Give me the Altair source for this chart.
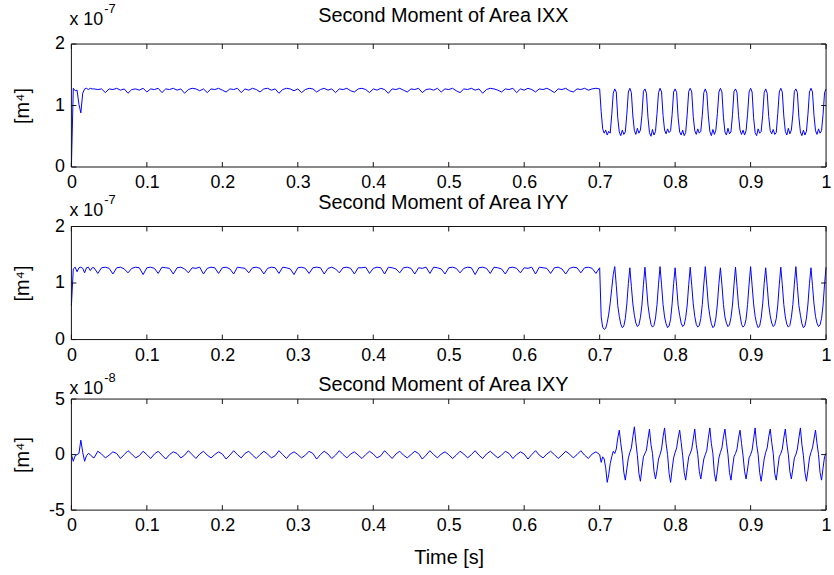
import altair as alt
import numpy as np
import pandas as pd

FONT = "Liberation Sans"
BLUE = "#0000ff"
EDGE = "#111111"

# Sample instants [s]: dense start-up window, 5 ms grid while steady, 2 ms grid once it oscillates
T_STARTUP = np.round(np.arange(0.0, 0.0301, 0.0025), 4)
T_STEADY = np.round(np.arange(0.035, 0.7001, 0.005), 4)
T_OSC = np.round(np.arange(0.702, 1.0001, 0.002), 4)

# ---- IXX  [x 1e-7 m^4] ----
IXX_STARTUP = [0.00, 1.28, 1.24, 1.25, 1.02, 0.88, 1.20, 1.27, 1.28, 1.26, 1.28, 1.27, 1.27]
IXX_STEADY = [
    1.26, 1.27, 1.21, 1.27, 1.26, 1.28, 1.25, 1.27, 1.20, 1.26,
    1.27, 1.25, 1.28, 1.22, 1.27, 1.26, 1.28, 1.21, 1.27, 1.26,
    1.28, 1.25, 1.27, 1.20, 1.26, 1.28, 1.27, 1.24, 1.27, 1.21,
    1.27, 1.26, 1.28, 1.25, 1.22, 1.27, 1.26, 1.28, 1.21, 1.27,
    1.25, 1.28, 1.26, 1.22, 1.27, 1.28, 1.25, 1.27, 1.20, 1.26,
    1.28, 1.27, 1.24, 1.27, 1.21, 1.26, 1.28, 1.27, 1.22, 1.26,
    1.28, 1.25, 1.27, 1.21, 1.27, 1.26, 1.28, 1.24, 1.22, 1.27,
    1.28, 1.26, 1.21, 1.27, 1.25, 1.28, 1.26, 1.20, 1.27, 1.26,
    1.28, 1.25, 1.22, 1.27, 1.26, 1.28, 1.21, 1.26, 1.27, 1.25,
    1.28, 1.22, 1.27, 1.26, 1.28, 1.24, 1.21, 1.27, 1.26, 1.28,
    1.25, 1.27, 1.20, 1.26, 1.28, 1.27, 1.25, 1.22, 1.27, 1.26,
    1.28, 1.21, 1.27, 1.25, 1.28, 1.26, 1.22, 1.27, 1.26, 1.28,
    1.25, 1.21, 1.27, 1.26, 1.28, 1.24, 1.22, 1.27, 1.26, 1.28,
    1.25, 1.27, 1.28, 1.27,
]
IXX_OSC = [
    0.90, 0.62, 0.55, 0.60, 0.52, 0.58, 0.55, 0.85, 1.20,
    1.27, 1.22, 0.80, 0.57, 0.51, 0.60, 0.53, 0.57, 0.86, 1.22,
    1.28, 1.21, 0.83, 0.59, 0.53, 0.63, 0.55, 0.60, 0.84, 1.23,
    1.27, 1.20, 0.81, 0.56, 0.50, 0.61, 0.52, 0.58, 0.87, 1.21,
    1.28, 1.22, 0.84, 0.60, 0.54, 0.62, 0.56, 0.59, 0.85, 1.22,
    1.27, 1.21, 0.80, 0.57, 0.52, 0.60, 0.51, 0.56, 0.86, 1.23,
    1.28, 1.22, 0.82, 0.59, 0.53, 0.62, 0.55, 0.58, 0.84, 1.21,
    1.27, 1.20, 0.83, 0.58, 0.51, 0.61, 0.53, 0.60, 0.87, 1.22,
    1.28, 1.22, 0.81, 0.57, 0.52, 0.63, 0.54, 0.57, 0.85, 1.23,
    1.27, 1.21, 0.84, 0.60, 0.53, 0.60, 0.52, 0.59, 0.86, 1.22,
    1.28, 1.22, 0.80, 0.56, 0.51, 0.62, 0.55, 0.58, 0.84, 1.21,
    1.27, 1.20, 0.82, 0.59, 0.54, 0.61, 0.53, 0.56, 0.87, 1.22,
    1.28, 1.22, 0.83, 0.58, 0.52, 0.63, 0.54, 0.60, 0.85, 1.23,
    1.27, 1.21, 0.81, 0.57, 0.51, 0.60, 0.52, 0.58, 0.86, 1.22,
    1.28, 1.22, 0.84, 0.59, 0.53, 0.62, 0.55, 0.59, 0.85, 1.21,
    1.27,
]

# ---- IYY  [x 1e-7 m^4] ----
IYY_STARTUP = [0.60, 1.25, 1.28, 1.20, 1.27, 1.28, 1.26, 1.18, 1.27, 1.28, 1.22, 1.27, 1.27]
IYY_STEADY = [
    1.17, 1.27, 1.28, 1.26, 1.16, 1.27, 1.28, 1.25, 1.18, 1.26,
    1.28, 1.27, 1.15, 1.27, 1.28, 1.26, 1.17, 1.28, 1.27, 1.26,
    1.16, 1.27, 1.28, 1.25, 1.18, 1.27, 1.26, 1.28, 1.16, 1.26,
    1.28, 1.27, 1.17, 1.27, 1.28, 1.25, 1.16, 1.28, 1.27, 1.26,
    1.18, 1.27, 1.28, 1.26, 1.16, 1.26, 1.28, 1.27, 1.17, 1.28,
    1.27, 1.25, 1.15, 1.27, 1.28, 1.26, 1.17, 1.27, 1.28, 1.27,
    1.16, 1.26, 1.28, 1.25, 1.18, 1.27, 1.28, 1.26, 1.16, 1.27,
    1.27, 1.28, 1.17, 1.26, 1.28, 1.27, 1.16, 1.28, 1.27, 1.25,
    1.18, 1.27, 1.28, 1.26, 1.16, 1.27, 1.26, 1.28, 1.17, 1.28,
    1.27, 1.25, 1.16, 1.27, 1.28, 1.26, 1.18, 1.26, 1.28, 1.27,
    1.15, 1.27, 1.28, 1.26, 1.17, 1.28, 1.27, 1.25, 1.16, 1.27,
    1.28, 1.26, 1.18, 1.27, 1.26, 1.28, 1.16, 1.28, 1.27, 1.26,
    1.17, 1.27, 1.28, 1.25, 1.16, 1.26, 1.28, 1.27, 1.18, 1.27,
    1.28, 1.26, 1.17, 1.27,
]
IYY_OSC = [
    0.40, 0.22, 0.18, 0.20, 0.30, 0.45, 0.65, 0.90, 1.15,
    1.29, 0.96, 0.60, 0.41, 0.27, 0.21, 0.24, 0.37, 0.63, 0.99,
    1.27, 0.94, 0.63, 0.43, 0.29, 0.23, 0.26, 0.39, 0.61, 0.97,
    1.28, 0.95, 0.61, 0.42, 0.27, 0.22, 0.25, 0.38, 0.62, 0.98,
    1.29, 0.97, 0.62, 0.40, 0.28, 0.21, 0.24, 0.36, 0.63, 0.99,
    1.27, 0.94, 0.60, 0.43, 0.29, 0.23, 0.26, 0.39, 0.61, 0.97,
    1.28, 0.96, 0.63, 0.41, 0.27, 0.22, 0.25, 0.37, 0.62, 0.98,
    1.29, 0.95, 0.61, 0.42, 0.28, 0.21, 0.24, 0.38, 0.63, 0.99,
    1.27, 0.97, 0.62, 0.40, 0.29, 0.23, 0.26, 0.39, 0.61, 0.97,
    1.28, 0.94, 0.60, 0.43, 0.27, 0.22, 0.25, 0.36, 0.62, 0.98,
    1.29, 0.96, 0.63, 0.41, 0.28, 0.21, 0.24, 0.38, 0.63, 0.99,
    1.27, 0.95, 0.61, 0.42, 0.29, 0.23, 0.26, 0.37, 0.61, 0.97,
    1.28, 0.97, 0.62, 0.40, 0.27, 0.22, 0.25, 0.39, 0.62, 0.98,
    1.29, 0.94, 0.60, 0.43, 0.28, 0.21, 0.24, 0.38, 0.63, 0.99,
    1.27, 0.96, 0.63, 0.41, 0.29, 0.23, 0.26, 0.37, 0.61, 0.98,
    1.28,
]

# ---- IXY  [x 1e-8 m^4] ----
IXY_STARTUP = [0.00, -0.60, -0.10, 0.00, 0.10, 1.30, 0.20, -0.60, -0.10, 0.10, 0.00, -0.20, -0.30]
IXY_STEADY = [
    0.30, 0.05, -0.30, -0.05, 0.25, 0.10, -0.35, 0.00, 0.35, 0.05,
    -0.30, -0.10, 0.30, 0.00, -0.35, 0.05, 0.30, -0.05, -0.40, 0.00,
    0.25, 0.10, -0.30, -0.05, 0.35, 0.00, -0.35, 0.05, 0.30, -0.05,
    -0.30, 0.00, 0.25, 0.05, -0.40, -0.05, 0.35, 0.00, -0.30, 0.10,
    0.30, -0.05, -0.35, 0.00, 0.30, 0.05, -0.30, -0.10, 0.35, 0.00,
    -0.35, 0.05, 0.25, 0.00, -0.30, -0.05, 0.30, 0.10, -0.40, 0.00,
    0.30, 0.05, -0.35, -0.05, 0.35, 0.00, -0.30, 0.05, 0.25, -0.05,
    -0.35, 0.00, 0.30, 0.05, -0.30, -0.10, 0.35, 0.00, -0.35, 0.05,
    0.30, -0.05, -0.30, 0.00, 0.30, 0.10, -0.40, -0.05, 0.35, 0.00,
    -0.30, 0.05, 0.25, 0.00, -0.35, -0.05, 0.30, 0.05, -0.30, 0.00,
    0.35, -0.05, -0.35, 0.05, 0.30, 0.00, -0.30, -0.05, 0.30, 0.10,
    -0.35, 0.00, 0.25, 0.05, -0.40, 0.00, 0.35, -0.05, -0.30, 0.05,
    0.30, 0.00, -0.35, -0.05, 0.30, 0.05, -0.30, 0.00, 0.35, -0.05,
    -0.35, 0.05, 0.25, 0.00,
]
IXY_OSC = [
    -0.70, -0.20, -0.40, -1.20, -2.50, -1.80, -0.80, -0.20, 0.30,
    0.10, 0.50, 1.50, 2.20, 1.00, 0.00, -1.60, -2.30, -1.30, -0.30,
    0.20, 0.60, 1.60, 2.50, 1.10, -0.10, -1.70, -2.40, -1.20, -0.20,
    0.10, 0.40, 1.40, 2.30, 0.90, 0.10, -1.50, -2.20, -1.40, -0.40,
    0.00, 0.50, 1.60, 2.40, 1.00, 0.00, -1.70, -2.50, -1.30, -0.30,
    0.20, 0.60, 1.50, 2.20, 1.10, -0.10, -1.60, -2.30, -1.20, -0.20,
    0.10, 0.50, 1.40, 2.30, 0.90, 0.00, -1.50, -2.20, -1.30, -0.40,
    0.00, 0.40, 1.50, 2.40, 1.00, 0.10, -1.70, -2.40, -1.40, -0.30,
    0.20, 0.60, 1.60, 2.30, 1.10, 0.00, -1.60, -2.30, -1.20, -0.20,
    0.10, 0.50, 1.50, 2.20, 1.00, -0.10, -1.50, -2.20, -1.30, -0.30,
    0.00, 0.40, 1.40, 2.40, 0.90, 0.00, -1.60, -2.40, -1.40, -0.40,
    0.20, 0.60, 1.60, 2.30, 1.10, 0.10, -1.70, -2.30, -1.20, -0.20,
    0.10, 0.50, 1.50, 2.30, 1.00, 0.00, -1.50, -2.20, -1.30, -0.30,
    0.00, 0.50, 1.50, 2.40, 0.90, -0.10, -1.60, -2.40, -1.40, -0.30,
    0.20, 0.60, 1.40, 2.20, 1.00, 0.00, -1.60, -2.30, -1.20, -0.20,
    0.10,
]

TITLES = ["Second Moment of Area IXX", "Second Moment of Area IYY", "Second Moment of Area IXY"]
EXPONENTS = ["-7", "-7", "-8"]
Y_TICKS = [[0, 1, 2], [0, 1, 2], [-5, 0, 5]]
X_TICKS = [0, 0.1, 0.2, 0.3, 0.4, 0.5, 0.6, 0.7, 0.8, 0.9, 1]
Y_LABEL = "[m\u2074]"
X_LABEL = "Time [s]"

T = np.concatenate([T_STARTUP, T_STEADY, T_OSC])
SERIES = [
    IXX_STARTUP + IXX_STEADY + IXX_OSC,
    IYY_STARTUP + IYY_STEADY + IYY_OSC,
    IXY_STARTUP + IXY_STEADY + IXY_OSC,
]

# layout (pixels)
W = 761
HEIGHTS = [124, 114, 112]
GAP = 60
TICK_LEN = 5
TITLE_BASE = [-22, -18, -8]      # baseline of each panel title, above the box
SCALE_BASE = [-19, -11, -5]      # baseline of the "x 10" multiplier
TITLE_X = 375


def panel_paths(values, yticks, height):
    """Signal polyline plus the box outline and inward tick marks, in data units."""
    rows = [{"kind": "signal", "seg": "signal", "i": k, "t": float(t), "v": float(v)}
            for k, (t, v) in enumerate(zip(T, values))]
    y0, y1 = yticks[0], yticks[-1]
    dy = TICK_LEN / height * (y1 - y0)
    dx = TICK_LEN / W
    segs = [[(0, y0), (1, y0), (1, y1), (0, y1), (0, y0)]]
    for tx in X_TICKS:
        segs.append([(tx, y0), (tx, y0 + dy)])
        segs.append([(tx, y1), (tx, y1 - dy)])
    for ty in yticks:
        segs.append([(0, ty), (dx, ty)])
        segs.append([(1, ty), (1 - dx, ty)])
    for k, pts in enumerate(segs):
        for i, (px, py) in enumerate(pts):
            rows.append({"kind": "box", "seg": f"box{k}", "i": i, "t": px, "v": py})
    return pd.DataFrame(rows)


def panel(values, title, exponent, yticks, height, title_base, scale_base, xtitle=None):
    df = panel_paths(values, yticks, height)
    xs = alt.Scale(domain=[0, 1], nice=False, zero=False)
    ys = alt.Scale(domain=[yticks[0], yticks[-1]], nice=False, zero=False)

    x_axis_kw = dict(
        values=X_TICKS, labelExpr="'' + datum.value", ticks=False, tickSize=0,
        domain=False, grid=False, labelPadding=7, labelFontSize=18,
        labelColor="black", labelFont=FONT, labelFlush=False,
    )
    if xtitle:
        x_axis_kw.update(title=xtitle, titleFontSize=20, titleFont=FONT,
                         titleFontWeight="normal", titleColor="black", titlePadding=13)
    else:
        x_axis_kw.update(title="")

    y_axis = alt.Axis(
        values=yticks, labelExpr="'' + datum.value", ticks=False, tickSize=0,
        domain=False, grid=False, labelPadding=7, labelFontSize=18,
        labelColor="black", labelFont=FONT, labelFlush=False,
        title=Y_LABEL, titleFontSize=20, titleFont=FONT, titleFontWeight="normal",
        titleColor="black", titleX=-43, titleY=height / 2, titleAngle=-90,
        titleAlign="center", titleBaseline="alphabetic",
    )

    paths = alt.Chart(df).mark_line(strokeWidth=1).encode(
        x=alt.X("t:Q", scale=xs, axis=alt.Axis(**x_axis_kw)),
        y=alt.Y("v:Q", scale=ys, axis=y_axis),
        color=alt.Color("kind:N", scale=alt.Scale(domain=["box", "signal"],
                                                  range=[EDGE, BLUE]), legend=None),
        detail="seg:N",
        order="i:Q",
    )

    title_txt = alt.Chart(pd.DataFrame({"s": [title]})).mark_text(
        align="center", baseline="alphabetic", fontSize=20, font=FONT, color="black"
    ).encode(text="s:N", x=alt.value(TITLE_X), y=alt.value(title_base))
    scale_txt = alt.Chart(pd.DataFrame({"s": ["x 10"]})).mark_text(
        align="left", baseline="alphabetic", fontSize=18, font=FONT, color="black"
    ).encode(text="s:N", x=alt.value(-2), y=alt.value(scale_base))
    exp_txt = alt.Chart(pd.DataFrame({"s": [exponent]})).mark_text(
        align="left", baseline="alphabetic", fontSize=13, font=FONT, color="black"
    ).encode(text="s:N", x=alt.value(33), y=alt.value(scale_base - 12))

    return alt.layer(paths, title_txt, scale_txt, exp_txt).properties(
        width=W, height=height)


panels = [
    panel(SERIES[i], TITLES[i], EXPONENTS[i], Y_TICKS[i], HEIGHTS[i],
          TITLE_BASE[i], SCALE_BASE[i], xtitle=(X_LABEL if i == 2 else None))
    for i in range(3)
]

chart = alt.vconcat(*panels, spacing=GAP, bounds="flush").properties(
    padding={"left": 12, "top": 0, "right": 2, "bottom": 2},
).configure_view(stroke="transparent")

chart.save("out.html", embed_options={"renderer": "svg", "actions": False})
